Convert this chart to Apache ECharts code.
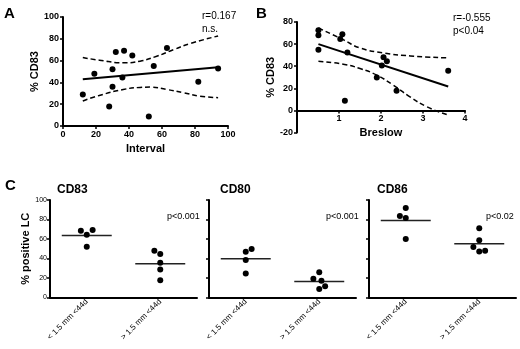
<!DOCTYPE html>
<html>
<head>
<meta charset="utf-8">
<script src="https://cdn.jsdelivr.net/npm/echarts@6/dist/echarts.min.js"></script>
<style>
  html, body { margin: 0; padding: 0; background: #fff; }
  #chart { width: 520px; height: 349px; }
</style>
</head>
<body>
<div id="chart"></div>
<script>
// panel A: interval vs %CD83
var aPoints = [[12,29],[19,48],[28,18],[30,52],[30,36],[32,68],[37,69],[36,44.5],[42,64.6],[52,8.8],[55,55],[63,71.6],[82,40.5],[94,52.7]];
var aFit = [[12,43],[94,54]];
var aBandX = [12, 22, 36.5, 46.7, 56.8, 67, 77, 94];
var aUpper = [62.8, 60.4, 58, 59.5, 64, 70, 75.6, 82.6];
var aLowerX = [12, 22, 36.5, 46.7, 52.8, 62.9, 73, 83, 94];
var aLower = [23, 28, 33.5, 35.4, 35.7, 33.5, 30.5, 27.4, 26];

// panel B: breslow vs %CD83
var bPoints = [[0.51,72.5],[0.51,68],[0.51,55],[1.08,69],[1.03,64.7],[1.2,52.3],[1.14,8.7],[2.06,48],[2.14,44.5],[2.02,40.6],[1.9,29.8],[2.37,17.7],[3.6,35.8]];
var bFit = [[0.51,60],[3.6,21.6]];
var bBandX = [0.51, 1.1, 1.5, 2.06, 2.7, 3.6];
var bUpper = [74.6, 64, 56.5, 52, 49.3, 47.5];
var bLowerX = [0.51, 1.1, 1.5, 1.9, 2.29, 2.69, 3.09, 3.6];
var bLower = [44.5, 41.8, 37.9, 31.9, 22.9, 12.3, 3.3, -4.2];

// panel C: % positive LC per group
var groups = ['< 1.5 mm <44d', '> 1.5 mm <44d'];
var markers = ['CD83', 'CD80', 'CD86'];
var pvalues = ['p<0.001', 'p<0.001', 'p<0.02'];
var cd83Low = [68.5, 69.2, 64.4, 52];
var cd83High = [48, 44.5, 35.6, 28.8, 17.8];
var cd80Low = [46.9, 49.7, 38.4, 24.7];
var cd80High = [26, 19.2, 17.1, 8.6, 11.6];
var cd86Low = [91.8, 83.6, 81.5, 59.9];
var cd86High = [70.9, 58.6, 51.7, 47.3, 47.9];
var cd83Jit = [[-0.08, 0.08, 0, 0], [-0.08, 0, 0, 0, 0]];
var cd80Jit = [[0, 0.08, 0, 0], [0, -0.08, 0.03, 0, 0.08]];
var cd86Jit = [[0, -0.08, 0, 0], [0, 0, -0.08, 0, 0.08]];
var cMeans = [[63.7, 34.6], [39.7, 16.4], [79.1, 55.1]];

var FONT = 'Liberation Sans';
var chart = echarts.init(document.getElementById('chart'));

function zip(xs, ys) {
  return xs.map(function (x, i) { return [x, ys[i]]; });
}

function axisBase(extra) {
  var o = {
    axisLine: { onZero: false, lineStyle: { color: '#000', width: 2 } },
    axisTick: { length: 3, lineStyle: { color: '#000', width: 1.5 } },
    axisLabel: { color: '#000', fontSize: 9, fontWeight: 'bold', fontFamily: FONT, margin: 4 },
    splitLine: { show: false },
    nameTextStyle: { color: '#000', fontSize: 11, fontWeight: 'bold', fontFamily: FONT }
  };
  for (var k in extra) o[k] = extra[k];
  return o;
}

function txt(text, left, top, size, weight) {
  return { text: text, left: left, top: top, padding: 0,
    textStyle: { color: '#000', fontSize: size, fontWeight: weight, fontFamily: FONT } };
}

var grids = [
  { left: 63, top: 17, width: 165, height: 109 },
  { left: 297, top: 22, width: 168, height: 110.5 },
  { left: 50, top: 200, width: 147, height: 97.5 },
  { left: 209, top: 200, width: 147, height: 97.5 },
  { left: 369, top: 200, width: 147, height: 97.5 }
];

var xAxes = [
  axisBase({ gridIndex: 0, type: 'value', min: 0, max: 100, interval: 20, name: 'Interval', nameLocation: 'middle', nameGap: 17 }),
  axisBase({ gridIndex: 1, type: 'value', min: 0, max: 4, interval: 1, name: 'Breslow', nameLocation: 'middle', nameGap: 17,
    offset: -22.1,
    axisLabel: { color: '#000', fontSize: 9, fontWeight: 'bold', fontFamily: FONT, margin: 4,
      formatter: function (v) { return v === 0 ? '' : v; } } })
];
var yAxes = [
  axisBase({ gridIndex: 0, type: 'value', min: 0, max: 100, interval: 20, name: '% CD83', nameLocation: 'middle', nameGap: 15 }),
  axisBase({ gridIndex: 1, type: 'value', min: -20, max: 80, interval: 20, name: '% CD83', nameLocation: 'middle', nameGap: 16 })
];

var dot = { color: '#000', opacity: 1 };
var dash = { color: '#000', width: 1.5, type: [5, 3] };
var series = [
  { type: 'scatter', xAxisIndex: 0, yAxisIndex: 0, data: aPoints, symbolSize: 6, itemStyle: dot, z: 5 },
  { type: 'line', xAxisIndex: 0, yAxisIndex: 0, data: aFit, symbol: 'none', lineStyle: { color: '#000', width: 2 } },
  { type: 'line', xAxisIndex: 0, yAxisIndex: 0, data: zip(aBandX, aUpper), smooth: true, symbol: 'none', lineStyle: dash },
  { type: 'line', xAxisIndex: 0, yAxisIndex: 0, data: zip(aLowerX, aLower), smooth: true, symbol: 'none', lineStyle: dash },
  { type: 'scatter', xAxisIndex: 1, yAxisIndex: 1, data: bPoints, symbolSize: 6, itemStyle: dot, z: 5 },
  { type: 'line', xAxisIndex: 1, yAxisIndex: 1, data: bFit, symbol: 'none', lineStyle: { color: '#000', width: 2 } },
  { type: 'line', xAxisIndex: 1, yAxisIndex: 1, data: zip(bBandX, bUpper), smooth: true, symbol: 'none', lineStyle: dash },
  { type: 'line', xAxisIndex: 1, yAxisIndex: 1, data: zip(bLowerX, bLower), smooth: true, symbol: 'none', lineStyle: dash }
];

var cData = [[cd83Low, cd83High, cd83Jit], [cd80Low, cd80High, cd80Jit], [cd86Low, cd86High, cd86Jit]];
var half = 0.34;

var titles = [
  txt('A', 4, 6, 15, 'bold'),
  txt('B', 256, 6, 15, 'bold'),
  txt('C', 5, 178, 15, 'bold'),
  txt('r=0.167', 202, 11, 10, 'normal'),
  txt('n.s.', 202, 24, 10, 'normal'),
  txt('r=-0.555', 453, 13, 10, 'normal'),
  txt('p<0.04', 453, 26, 10, 'normal')
];

var titleLeft = [57, 220, 377];
var pLeft = [167, 326, 486];
markers.forEach(function (m, i) {
  var g = i + 2;
  titles.push(txt(m, titleLeft[i], 184, 12, 'bold'));
  titles.push(txt(pvalues[i], pLeft[i], 212, 9, 'normal'));

  // visible category axis
  xAxes.push(axisBase({ gridIndex: g, type: 'category', data: groups, boundaryGap: true,
    axisTick: { alignWithLabel: true, length: 4, lineStyle: { color: '#000', width: 1.5 } },
    axisLabel: { color: '#000', fontSize: 8, fontFamily: FONT, rotate: 45, margin: 3, interval: 0 } }));
  // hidden value axis for jittered points
  var vx = xAxes.length;
  xAxes.push({ gridIndex: g, type: 'value', min: 0, max: 2, show: false });
  yAxes.push(axisBase({ gridIndex: g, type: 'value', min: 0, max: 100, interval: 20,
    name: i === 0 ? '% positive LC' : '', nameLocation: 'middle', nameGap: 9,
    nameTextStyle: { color: '#000', fontSize: 11, fontWeight: 'bold', fontFamily: FONT },
    axisLabel: { show: i === 0, color: '#000', fontSize: 7, fontFamily: FONT, margin: 3 } }));
  var vy = yAxes.length - 1;

  [0, 1].forEach(function (k) {
    var vals = cData[i][k];
    var jit = cData[i][2][k];
    var center = k + 0.5;
    series.push({ type: 'scatter', xAxisIndex: vx, yAxisIndex: vy, symbolSize: 6, itemStyle: dot, z: 5,
      data: vals.map(function (v, j) { return [center + jit[j], v]; }) });
    series.push({ type: 'line', xAxisIndex: vx, yAxisIndex: vy, symbol: 'none', lineStyle: { color: '#222', width: 1.5 },
      data: [[center - half, cMeans[i][k]], [center + half, cMeans[i][k]]] });
  });
});

chart.setOption({
  animation: false,
  backgroundColor: '#fff',
  title: titles,
  grid: grids,
  xAxis: xAxes,
  yAxis: yAxes,
  series: series
});
</script>
</body>
</html>
